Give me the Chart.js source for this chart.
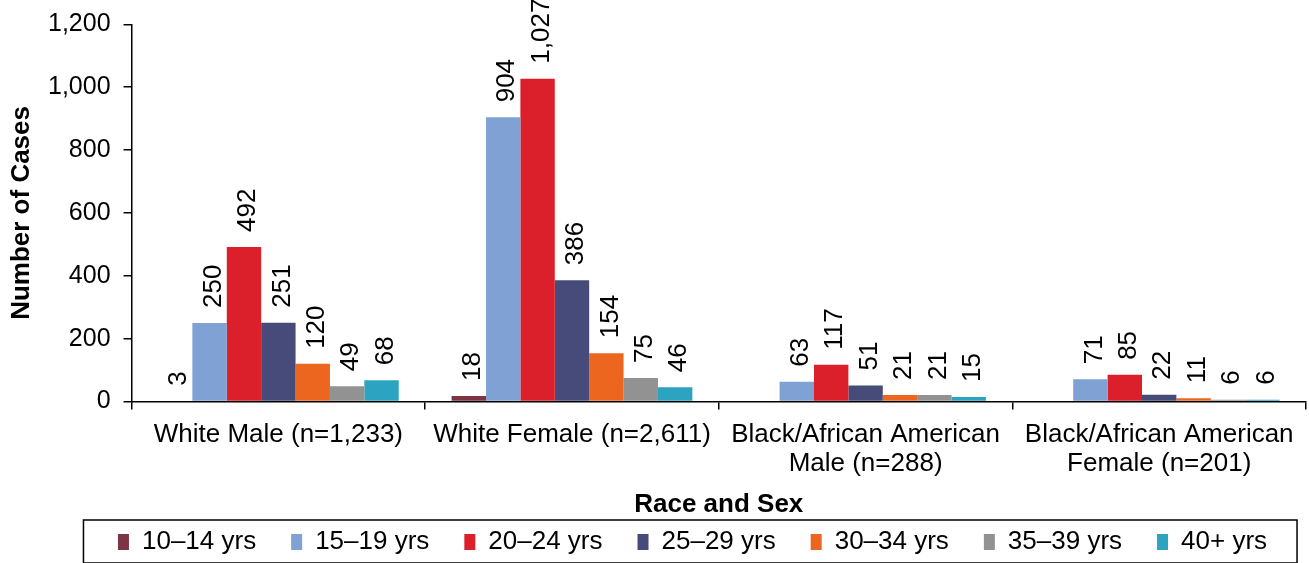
<!DOCTYPE html>
<html><head><meta charset="utf-8">
<script src="https://cdn.jsdelivr.net/npm/chart.js@4.4.0/dist/chart.umd.min.js"></script>
<style>html,body{margin:0;padding:0;background:#fff;} #wrap{width:1309px;height:563px;position:relative;}</style>
</head><body><div id="wrap"><canvas id="c"></canvas></div>
<script>
const categories = [
  'White Male (n=1,233)',
  'White Female (n=2,611)',
  ['Black/African American', 'Male (n=288)'],
  ['Black/African American', 'Female (n=201)']
];
const seriesNames = ['10–14 yrs', '15–19 yrs', '20–24 yrs', '25–29 yrs', '30–34 yrs', '35–39 yrs', '40+ yrs'];
const age10_14 = [3, 18, null, null];
const age15_19 = [250, 904, 63, 71];
const age20_24 = [492, 1027, 117, 85];
const age25_29 = [251, 386, 51, 22];
const age30_34 = [120, 154, 21, 11];
const age35_39 = [49, 75, 21, 6];
const age40plus = [68, 46, 15, 6];
const seriesColors = ['#7d3545', '#7fa1d3', '#db1f2b', '#464b7a', '#ec6620', '#929292', '#2ba3c1'];
const yTicks = [0, 200, 400, 600, 800, 1000, 1200];

const FONT = '"Liberation Sans", Arial, sans-serif';
const seriesData = [age10_14, age15_19, age20_24, age25_29, age30_34, age35_39, age40plus];

const barLabels = {
  id: 'barLabels',
  afterDatasetsDraw(chart) {
    const ctx = chart.ctx;
    ctx.save();
    ctx.font = '26px ' + FONT;
    ctx.fillStyle = '#000';
    ctx.textAlign = 'left';
    ctx.textBaseline = 'middle';
    chart.data.datasets.forEach((ds, i) => {
      const meta = chart.getDatasetMeta(i);
      meta.data.forEach((bar, j) => {
        const v = ds.data[j];
        if (v == null) return;
        ctx.save();
        ctx.translate(bar.x, bar.y - 15);
        ctx.rotate(-Math.PI / 2);
        ctx.fillText(v.toLocaleString('en-US'), 0, 4);
        ctx.restore();
      });
    });
    ctx.restore();
  }
};

const legendBox = {
  id: 'legendBox',
  afterLayout(chart) {
    const l = chart.legend;
    l.left += 39; l.right += 39;
    l.top -= 27;
  },
  afterDraw(chart) {
    const l = chart.legend;
    const hb = l.legendHitBoxes;
    if (!hb || !hb.length) return;
    const first = hb[0], last = hb[hb.length - 1];
    const cy = first.top + first.height / 2;
    const ctx = chart.ctx;
    ctx.save();
    ctx.strokeStyle = '#000';
    ctx.lineWidth = 1.5;
    const x0 = first.left - 34.5;
    const x1 = last.left + last.width + 30;
    ctx.strokeRect(x0, cy - 22, x1 - x0, 43);
    ctx.restore();
  }
};

new Chart(document.getElementById('c'), {
  type: 'bar',
  data: {
    labels: categories,
    datasets: seriesNames.map((name, i) => ({
      label: name,
      data: seriesData[i],
      backgroundColor: seriesColors[i],
      borderWidth: 0,
      categoryPercentage: 0.82,
      barPercentage: 1.0
    }))
  },
  options: {
    responsive: true,
    maintainAspectRatio: false,
    animation: false,
    devicePixelRatio: 1,
    layout: { padding: { left: 1, right: 3, top: 6, bottom: 0 } },
    plugins: {
      tooltip: { enabled: false },
      legend: {
        position: 'bottom',
        maxHeight: 42,
        labels: {
          color: '#000',
          font: { family: FONT, size: 26 },
          boxWidth: 11,
          boxHeight: 16,
          padding: 35
        }
      }
    },
    scales: {
      x: {
        grid: { display: true, drawOnChartArea: false, drawTicks: true, tickLength: 8, color: '#000', lineWidth: 1.5, offset: true },
        border: { display: true, color: '#000', width: 1.5 },
        ticks: { color: '#000', font: { family: FONT, size: 26, lineHeight: 1.1 }, maxRotation: 0, autoSkip: false, padding: 11 },
        title: { display: true, text: 'Race and Sex', color: '#000', font: { family: FONT, size: 26, weight: 'bold' }, padding: { top: 0, bottom: 1 } }
      },
      y: {
        min: 0, max: 1200,
        afterBuildTicks(scale) { scale.ticks = yTicks.map(v => ({ value: v })); },
        grid: { display: true, drawOnChartArea: false, drawTicks: true, tickLength: 8, color: '#000', lineWidth: 1.5 },
        border: { display: true, color: '#000', width: 1.5 },
        ticks: { color: '#000', font: { family: FONT, size: 25, lineHeight: 0.9 }, padding: 13, callback: v => v.toLocaleString('en-US') },
        title: { display: true, text: 'Number of Cases', color: '#000', font: { family: FONT, size: 26, weight: 'bold', lineHeight: 1.0 }, padding: { top: 8, bottom: 0 } }
      }
    }
  },
  plugins: [barLabels, legendBox]
});
</script>
</body></html>
